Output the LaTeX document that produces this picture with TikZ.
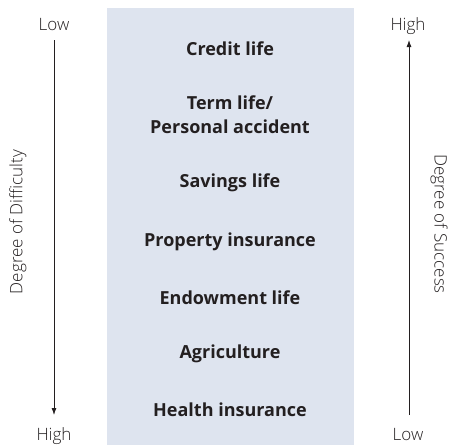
\documentclass[tikz,border=0pt]{standalone}
\usepackage{fontspec}
\usetikzlibrary{arrows.meta}
\setmainfont{Open Sans}
\newfontfamily\lightfont{Open Sans Light}
\definecolor{boxfill}{HTML}{DEE4EF}
\definecolor{ink}{HTML}{231F20}
\begin{document}
\begin{tikzpicture}[x=1pt,y=-1pt,
  item/.style={font=\fontsize{18}{24}\selectfont\bfseries, text=ink, align=center, inner sep=0pt},
  endlabel/.style={font=\lightfont\fontsize{17}{20}\selectfont, text=ink, inner sep=0pt, anchor=base},
  sidelabel/.style={font=\lightfont\fontsize{17}{20}\selectfont, text=ink, inner sep=0pt},
  axis/.style={draw=ink, line width=0.8pt, -{Latex[length=7pt,width=5pt]}}]
\useasboundingbox (0,0) rectangle (450,445);
\fill[boxfill] (107,8) rectangle (354,445);
\node[item] (credit) at (230,49) {Credit life};
\node[item] (term) at (230,115) {Term life/\\Personal accident};
\node[item] (savings) at (230,183) {Savings life};
\node[item] (property) at (230,242) {Property insurance};
\node[item] (endow) at (230,298) {Endowment life};
\node[item] (agri) at (230,354) {Agriculture};
\node[item] (health) at (230,410) {Health insurance};
\node[endlabel] (lowL) at (54,30) {Low};
\node[endlabel] (highL) at (54,440) {High};
\node[endlabel] (highR) at (408,30) {High};
\node[endlabel] (lowR) at (408,440) {Low};
\coordinate (lt) at (54,40);
\coordinate (lb) at (54,415);
\coordinate (rt) at (409,40);
\coordinate (rb) at (409,415);
\draw[axis] (lt) -- (lb);
\draw[axis] (rb) -- (rt);
\node[sidelabel, rotate=90] (diff) at (18,222) {Degree of Difficulty};
\node[sidelabel, rotate=-90] (succ) at (439,224) {Degree of Success};
\end{tikzpicture}
\end{document}
